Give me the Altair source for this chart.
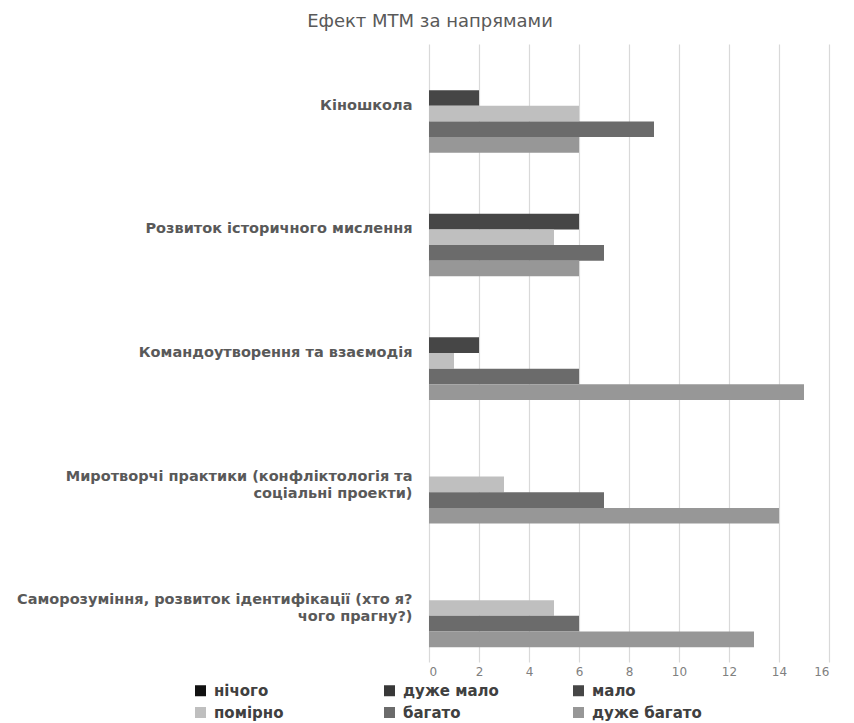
import altair as alt
import pandas as pd

title_text = "Ефект МТМ за напрямами"
categories = [
    "Кіношкола",
    "Розвиток історичного мислення",
    "Командоутворення та взаємодія",
    "Миротворчі практики (конфліктологія та\nсоціальні проекти)",
    "Саморозуміння, розвиток ідентифікації (хто я?\nчого прагну?)",
]
series = ["нічого", "дуже мало", "мало", "помірно", "багато", "дуже багато"]
nothing = [0, 0, 0, 0, 0]
very_little = [0, 0, 0, 0, 0]
little = [2, 6, 2, 0, 0]
moderate = [6, 5, 1, 3, 5]
much = [9, 7, 6, 7, 6]
very_much = [6, 6, 15, 14, 13]
colors = ["#111111", "#383838", "#464646", "#bfbfbf", "#6b6b6b", "#979797"]
x_ticks = [0, 2, 4, 6, 8, 10, 12, 14, 16]

values_by_series = [nothing, very_little, little, moderate, much, very_much]
rows = []
for s, vals in zip(series, values_by_series):
    for c, v in zip(categories, vals):
        rows.append({"category": c, "series": s, "value": v})
df = pd.DataFrame(rows)

FONT = "DejaVu Sans"

chart = alt.Chart(df).mark_bar().encode(
    y=alt.Y(
        "category:N",
        sort=categories,
        scale=alt.Scale(paddingInner=0.24, paddingOuter=0.12),
        axis=alt.Axis(
            title=None,
            labelExpr="split(datum.label, '\\n')",
            labelFont=FONT,
            labelFontSize=14.5,
            labelFontWeight="bold",
            labelColor="#595959",
            labelPadding=17,
            labelLimit=430,
            labelLineHeight=17,
            ticks=False,
            domain=False,
            grid=False,
        ),
    ),
    yOffset=alt.YOffset(
        "series:N",
        sort=series,
        scale=alt.Scale(domain=series, paddingInner=0, paddingOuter=0),
    ),
    x=alt.X(
        "value:Q",
        scale=alt.Scale(domain=[0, 16], nice=False),
        axis=alt.Axis(
            title=None,
            values=x_ticks,
            labelFont=FONT,
            labelFontSize=12,
            labelColor="#808080",
            labelPadding=4,
            ticks=False,
            domain=False,
            grid=True,
            gridColor="#d9d9d9",
            gridWidth=1.2,
        ),
    ),
    color=alt.Color(
        "series:N",
        sort=series,
        scale=alt.Scale(domain=series, range=colors),
        legend=alt.Legend(
            title=None,
            orient="none",
            legendX=-236,
            legendY=639,
            direction="horizontal",
            columns=3,
            gridAlign="all",
            columnPadding=58,
            rowPadding=6,
            symbolType="square",
            symbolSize=121,
            symbolStrokeWidth=0,
            labelFont=FONT,
            labelFontSize=15,
            labelFontWeight="bold",
            labelColor="#404040",
            labelOffset=6,
            padding=0,
        ),
    ),
).properties(
    width=400,
    height=618,
    autosize="none",
    padding={"left": 421, "top": 36, "right": 17, "bottom": 60},
    title=alt.TitleParams(
        text=title_text,
        font=FONT,
        fontSize=18,
        fontWeight="normal",
        color="#595959",
        anchor="middle",
        frame="group",
        dx=-199,
        offset=13,
    ),
).configure_view(stroke=None)

chart.save("out.html", embed_options={"renderer": "svg", "actions": False})
